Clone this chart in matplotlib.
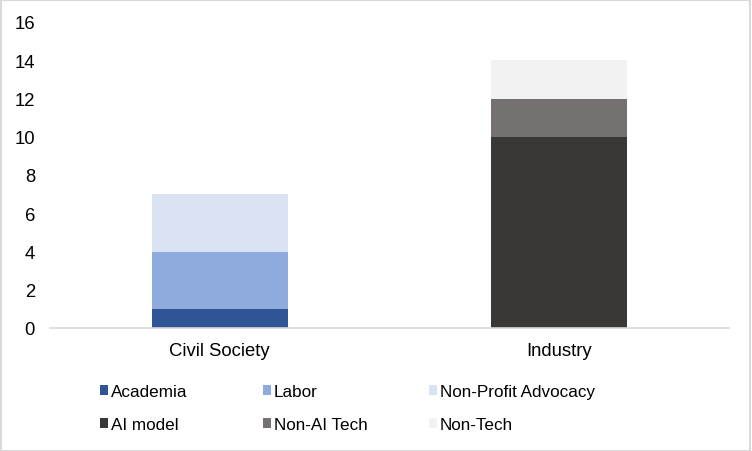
import matplotlib.pyplot as plt
from matplotlib.patches import Rectangle

plt.rcParams['font.family'] = ['Liberation Sans', 'DejaVu Sans']

categories = ['Civil Society', 'Industry']
series = ['Academia', 'Labor', 'Non-Profit Advocacy', 'AI model', 'Non-AI Tech', 'Non-Tech']
values = {
    'Academia': [1, 0],
    'Labor': [3, 0],
    'Non-Profit Advocacy': [3, 0],
    'AI model': [0, 10],
    'Non-AI Tech': [0, 2],
    'Non-Tech': [0, 2],
}
colors = ['#2F5597', '#8FAADC', '#DAE3F3', '#3A3836', '#767171', '#F2F2F2']

fig = plt.figure(figsize=(7.52, 4.52), dpi=100)
ax = fig.add_axes([50 / 752, 1 - 329 / 452, 679 / 752, 306 / 452])

x = list(range(len(categories)))
bottom = [0, 0]
handles = {}
for name, col in zip(series, colors):
    vals = values[name]
    b = ax.bar(x, vals, width=0.4, bottom=bottom, color=col, label=name)
    handles[name] = b
    bottom = [bt + v for bt, v in zip(bottom, vals)]

ax.set_xlim(-0.5, 1.5)
ax.set_ylim(0, 16)
ax.set_yticks(range(0, 17, 2))
ax.set_xticks(x)
ax.set_xticklabels(categories)
ax.tick_params(axis='both', length=0, labelsize=13.3, colors='black')
ax.tick_params(axis='y', pad=10.8)
ax.tick_params(axis='x', pad=10)
for s in ['top', 'right', 'left']:
    ax.spines[s].set_visible(False)
ax.spines['bottom'].set_color('#D9D9D9')
ax.spines['bottom'].set_linewidth(1.2)

# legend in three fixed columns
col_x = [93, 256, 422]
for i in range(3):
    names = [series[i], series[i + 3]]
    leg = fig.legend([handles[n] for n in names], names, loc='upper left',
                     bbox_to_anchor=(col_x[i] / 752, 1 - 378 / 452), frameon=False,
                     fontsize=12.3, handlelength=0.5, handleheight=0.5,
                     handletextpad=0.15, labelspacing=1.05, borderaxespad=0)

fig.patches.append(Rectangle((0.001, 0.001), 0.997, 0.996, transform=fig.transFigure,
                             fill=False, edgecolor='#D9D9D9', linewidth=1.5))

fig.savefig('out.png', dpi=100)
